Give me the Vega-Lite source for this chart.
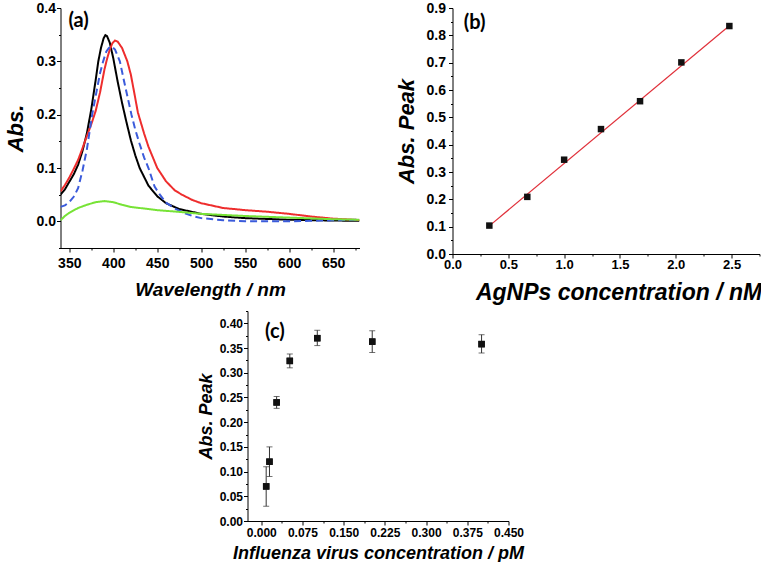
{
  "$schema": "https://vega.github.io/schema/vega-lite/v6.json",
  "background": "white",
  "padding": {"left": 3.5, "top": 1, "right": 0, "bottom": 0},
  "spacing": 1,
  "config": {
    "view": {"stroke": null},
    "font": "Liberation Sans",
    "axis": {
      "grid": false,
      "domainColor": "#000000",
      "tickColor": "#000000",
      "labelColor": "#000000",
      "titleColor": "#000000",
      "labelFont": "Liberation Sans",
      "titleFont": "Liberation Sans",
      "labelFontWeight": "bold",
      "titleFontWeight": "bold",
      "titleFontStyle": "italic",
      "labelFlush": false,
      "labelOverlap": false,
      "labelBound": false,
      "domainWidth": 1,
      "tickWidth": 1,
      "tickCount": 100
    }
  },
  "vconcat": [
    {
      "spacing": 35,
      "hconcat": [
        {
          "width": 299,
          "height": 240,
          "layer": [
            {
              "data": {"values": [
                {"wl": 340, "abs": 0.050, "s": "A"}, {"wl": 345, "abs": 0.060, "s": "A"}, {"wl": 350, "abs": 0.074, "s": "A"}, {"wl": 355, "abs": 0.088, "s": "A"}, {"wl": 360, "abs": 0.106, "s": "A"}, {"wl": 365, "abs": 0.132, "s": "A"}, {"wl": 370, "abs": 0.165, "s": "A"}, {"wl": 375, "abs": 0.210, "s": "A"}, {"wl": 380, "abs": 0.265, "s": "A"}, {"wl": 383, "abs": 0.300, "s": "A"}, {"wl": 386, "abs": 0.325, "s": "A"}, {"wl": 389, "abs": 0.343, "s": "A"}, {"wl": 391, "abs": 0.349, "s": "A"}, {"wl": 393, "abs": 0.347, "s": "A"}, {"wl": 396, "abs": 0.335, "s": "A"}, {"wl": 400, "abs": 0.306, "s": "A"}, {"wl": 405, "abs": 0.262, "s": "A"}, {"wl": 410, "abs": 0.222, "s": "A"}, {"wl": 415, "abs": 0.186, "s": "A"}, {"wl": 420, "abs": 0.152, "s": "A"}, {"wl": 425, "abs": 0.124, "s": "A"}, {"wl": 430, "abs": 0.100, "s": "A"}, {"wl": 440, "abs": 0.067, "s": "A"}, {"wl": 450, "abs": 0.047, "s": "A"}, {"wl": 460, "abs": 0.034, "s": "A"}, {"wl": 475, "abs": 0.023, "s": "A"}, {"wl": 500, "abs": 0.014, "s": "A"}, {"wl": 525, "abs": 0.009, "s": "A"}, {"wl": 550, "abs": 0.006, "s": "A"}, {"wl": 600, "abs": 0.003, "s": "A"}, {"wl": 650, "abs": 0.0015, "s": "A"}, {"wl": 680, "abs": 0.001, "s": "A"},
                {"wl": 340, "abs": 0.056, "s": "B"}, {"wl": 345, "abs": 0.068, "s": "B"}, {"wl": 350, "abs": 0.082, "s": "B"}, {"wl": 355, "abs": 0.098, "s": "B"}, {"wl": 360, "abs": 0.115, "s": "B"}, {"wl": 365, "abs": 0.137, "s": "B"}, {"wl": 370, "abs": 0.160, "s": "B"}, {"wl": 375, "abs": 0.182, "s": "B"}, {"wl": 380, "abs": 0.207, "s": "B"}, {"wl": 385, "abs": 0.242, "s": "B"}, {"wl": 390, "abs": 0.285, "s": "B"}, {"wl": 393, "abs": 0.305, "s": "B"}, {"wl": 396, "abs": 0.322, "s": "B"}, {"wl": 399, "abs": 0.334, "s": "B"}, {"wl": 402, "abs": 0.339, "s": "B"}, {"wl": 405, "abs": 0.337, "s": "B"}, {"wl": 410, "abs": 0.325, "s": "B"}, {"wl": 416, "abs": 0.300, "s": "B"}, {"wl": 420, "abs": 0.275, "s": "B"}, {"wl": 424, "abs": 0.240, "s": "B"}, {"wl": 428, "abs": 0.204, "s": "B"}, {"wl": 435, "abs": 0.165, "s": "B"}, {"wl": 440, "abs": 0.140, "s": "B"}, {"wl": 450, "abs": 0.100, "s": "B"}, {"wl": 460, "abs": 0.075, "s": "B"}, {"wl": 470, "abs": 0.058, "s": "B"}, {"wl": 478, "abs": 0.050, "s": "B"}, {"wl": 490, "abs": 0.040, "s": "B"}, {"wl": 500, "abs": 0.034, "s": "B"}, {"wl": 525, "abs": 0.025, "s": "B"}, {"wl": 550, "abs": 0.021, "s": "B"}, {"wl": 575, "abs": 0.018, "s": "B"}, {"wl": 600, "abs": 0.014, "s": "B"}, {"wl": 625, "abs": 0.009, "s": "B"}, {"wl": 650, "abs": 0.005, "s": "B"}, {"wl": 680, "abs": 0.0025, "s": "B"},
                {"wl": 340, "abs": 0.027, "s": "C"}, {"wl": 345, "abs": 0.030, "s": "C"}, {"wl": 350, "abs": 0.036, "s": "C"}, {"wl": 355, "abs": 0.046, "s": "C"}, {"wl": 360, "abs": 0.062, "s": "C"}, {"wl": 365, "abs": 0.095, "s": "C"}, {"wl": 370, "abs": 0.135, "s": "C"}, {"wl": 376, "abs": 0.200, "s": "C"}, {"wl": 380, "abs": 0.235, "s": "C"}, {"wl": 385, "abs": 0.278, "s": "C"}, {"wl": 388.5, "abs": 0.300, "s": "C"}, {"wl": 392, "abs": 0.318, "s": "C"}, {"wl": 395, "abs": 0.325, "s": "C"}, {"wl": 398, "abs": 0.328, "s": "C"}, {"wl": 402, "abs": 0.322, "s": "C"}, {"wl": 407.5, "abs": 0.300, "s": "C"}, {"wl": 412, "abs": 0.265, "s": "C"}, {"wl": 416, "abs": 0.235, "s": "C"}, {"wl": 420.7, "abs": 0.200, "s": "C"}, {"wl": 425, "abs": 0.172, "s": "C"}, {"wl": 430, "abs": 0.145, "s": "C"}, {"wl": 435, "abs": 0.120, "s": "C"}, {"wl": 440, "abs": 0.100, "s": "C"}, {"wl": 447, "abs": 0.065, "s": "C"}, {"wl": 453, "abs": 0.050, "s": "C"}, {"wl": 460, "abs": 0.035, "s": "C"}, {"wl": 470, "abs": 0.024, "s": "C"}, {"wl": 480, "abs": 0.016, "s": "C"}, {"wl": 490, "abs": 0.010, "s": "C"}, {"wl": 500, "abs": 0.006, "s": "C"}, {"wl": 525, "abs": 0.002, "s": "C"}, {"wl": 550, "abs": 0.000, "s": "C"}, {"wl": 600, "abs": 0.000, "s": "C"}, {"wl": 650, "abs": 0.002, "s": "C"}, {"wl": 680, "abs": 0.003, "s": "C"},
                {"wl": 340, "abs": 0.002, "s": "D"}, {"wl": 345, "abs": 0.010, "s": "D"}, {"wl": 350, "abs": 0.016, "s": "D"}, {"wl": 360, "abs": 0.025, "s": "D"}, {"wl": 370, "abs": 0.031, "s": "D"}, {"wl": 380, "abs": 0.036, "s": "D"}, {"wl": 390, "abs": 0.038, "s": "D"}, {"wl": 400, "abs": 0.036, "s": "D"}, {"wl": 410, "abs": 0.031, "s": "D"}, {"wl": 420, "abs": 0.027, "s": "D"}, {"wl": 450, "abs": 0.021, "s": "D"}, {"wl": 480, "abs": 0.017, "s": "D"}, {"wl": 500, "abs": 0.014, "s": "D"}, {"wl": 550, "abs": 0.010, "s": "D"}, {"wl": 600, "abs": 0.007, "s": "D"}, {"wl": 650, "abs": 0.004, "s": "D"}, {"wl": 680, "abs": 0.003, "s": "D"}
              ]},
              "mark": {"type": "line", "strokeWidth": 2, "clip": true},
              "encoding": {
                "x": {"field": "wl", "type": "quantitative",
                  "scale": {"domain": [340, 680], "nice": false, "zero": false},
                  "axis": {"title": "Wavelength / nm", "titleFontSize": 19, "titlePadding": 10, "labelFontSize": 14, "labelPadding": 4, "labelOverlap": false, "tickCount": 100,
                    "values": [350, 375, 400, 425, 450, 475, 500, 525, 550, 575, 600, 625, 650, 675],
                    "labelExpr": "datum.value % 50 === 0 ? datum.label : ''",
                    "tickSize": {"condition": {"test": "datum.value % 50 !== 0", "value": 2}, "value": 4}}},
                "y": {"field": "abs", "type": "quantitative",
                  "scale": {"domain": [-0.05, 0.4], "nice": false, "zero": false},
                  "axis": {"title": "Abs.", "titleFontSize": 22, "titlePadding": 9, "labelFontSize": 14, "labelPadding": 1, "format": ".1f", "labelOverlap": false, "tickCount": 100,
                    "values": [-0.05, 0, 0.05, 0.1, 0.15, 0.2, 0.25, 0.3, 0.35, 0.4],
                    "labelExpr": "round(datum.value*100) % 10 === 0 ? datum.label : ''",
                    "tickSize": {"condition": {"test": "round(datum.value*100) % 10 !== 0", "value": 2}, "value": 4}}},
                "color": {"field": "s", "type": "nominal", "legend": null,
                  "scale": {"domain": ["A", "B", "C", "D"], "range": ["#000000", "#ee2d2d", "#3b5bdb", "#77e336"]}},
                "strokeDash": {"field": "s", "type": "nominal", "legend": null,
                  "scale": {"domain": ["A", "B", "C", "D"], "range": [[1, 0], [1, 0], [7, 4], [1, 0]]}}
              }
            },
            {
              "data": {"values": [{"px": 349, "py": 0.364, "t": "(a)"}]},
              "mark": {"type": "text", "align": "left", "baseline": "alphabetic", "font": "Lato", "fontSize": 20, "fontWeight": "bold", "color": "#000000"},
              "encoding": {
                "x": {"field": "px", "type": "quantitative"},
                "y": {"field": "py", "type": "quantitative"},
                "text": {"field": "t"}
              }
            }
          ]
        },
        {
          "width": 307,
          "height": 246,
          "layer": [
            {
              "data": {"values": [{"c": 0.33, "p": 0.103}, {"c": 2.48, "p": 0.835}]},
              "mark": {"type": "line", "color": "#e0303a", "strokeWidth": 1.2},
              "encoding": {
                "x": {"field": "c", "type": "quantitative",
                  "scale": {"domain": [0, 2.75], "nice": false, "zero": false},
                  "axis": {"title": "AgNPs concentration / nM", "titleFontSize": 23, "titlePadding": 10, "titleX": 166, "labelFontSize": 13, "labelPadding": 0, "format": ".1f", "labelOverlap": false, "tickCount": 100,
                    "values": [0, 0.25, 0.5, 0.75, 1, 1.25, 1.5, 1.75, 2, 2.25, 2.5, 2.75],
                    "labelExpr": "round(datum.value*100) % 50 === 0 ? datum.label : ''",
                    "tickSize": {"condition": {"test": "round(datum.value*100) % 50 !== 0", "value": 2}, "value": 4}}},
                "y": {"field": "p", "type": "quantitative",
                  "scale": {"domain": [0, 0.9], "nice": false, "zero": false},
                  "axis": {"title": "Abs. Peak", "titleFontSize": 22, "titlePadding": 8, "labelFontSize": 14, "labelPadding": 3, "format": ".1f", "labelOverlap": false, "tickCount": 100,
                    "values": [0, 0.05, 0.1, 0.15, 0.2, 0.25, 0.3, 0.35, 0.4, 0.45, 0.5, 0.55, 0.6, 0.65, 0.7, 0.75, 0.8, 0.85, 0.9],
                    "labelExpr": "round(datum.value*100) % 10 === 0 ? datum.label : ''",
                    "tickSize": {"condition": {"test": "round(datum.value*100) % 10 !== 0", "value": 2}, "value": 4}}}
              }
            },
            {
              "data": {"values": [
                {"c": 0.33, "p": 0.104}, {"c": 0.67, "p": 0.209}, {"c": 1.0, "p": 0.345}, {"c": 1.33, "p": 0.457},
                {"c": 1.68, "p": 0.559}, {"c": 2.05, "p": 0.701}, {"c": 2.48, "p": 0.834}
              ]},
              "mark": {"type": "point", "shape": "square", "filled": true, "size": 42, "color": "#111111", "opacity": 1},
              "encoding": {
                "x": {"field": "c", "type": "quantitative"},
                "y": {"field": "p", "type": "quantitative"}
              }
            },
            {
              "data": {"values": [{"px": 0.1, "py": 0.825, "t": "(b)"}]},
              "mark": {"type": "text", "align": "left", "baseline": "alphabetic", "font": "Lato", "fontSize": 20, "fontWeight": "bold", "color": "#000000"},
              "encoding": {
                "x": {"field": "px", "type": "quantitative"},
                "y": {"field": "py", "type": "quantitative"},
                "text": {"field": "t"}
              }
            }
          ]
        }
      ]
    },
    {
      "spacing": 10,
      "hconcat": [
        {
          "width": 126,
          "height": 210,
          "data": {"values": [{"s": 1}]},
          "mark": {"type": "point", "opacity": 0},
          "encoding": {}
        },
        {
          "width": 261,
          "height": 210,
          "data": {"values": [
            {"v": 0.009, "m": 0.070, "lo": 0.030, "hi": 0.110},
            {"v": 0.015, "m": 0.120, "lo": 0.090, "hi": 0.150},
            {"v": 0.028, "m": 0.240, "lo": 0.228, "hi": 0.252},
            {"v": 0.052, "m": 0.324, "lo": 0.310, "hi": 0.338},
            {"v": 0.102, "m": 0.370, "lo": 0.355, "hi": 0.386},
            {"v": 0.202, "m": 0.363, "lo": 0.341, "hi": 0.385},
            {"v": 0.401, "m": 0.358, "lo": 0.340, "hi": 0.377}
          ]},
          "layer": [
            {
              "mark": {"type": "point", "shape": "square", "filled": true, "size": 42, "color": "#111111", "opacity": 1},
              "encoding": {
                "x": {"field": "v", "type": "quantitative",
                  "scale": {"domain": [-0.025, 0.45], "nice": false, "zero": false},
                  "axis": {"title": "Influenza virus concentration / pM", "titleFontSize": 18, "titlePadding": 6, "labelFontSize": 12, "labelPadding": 2, "format": ".3f", "labelOverlap": false, "tickCount": 100,
                    "values": [0, 0.0375, 0.075, 0.1125, 0.15, 0.1875, 0.225, 0.2625, 0.3, 0.3375, 0.375, 0.4125, 0.45],
                    "labelExpr": "round(datum.value*10000) % 750 === 0 ? datum.label : ''",
                    "tickSize": {"condition": {"test": "round(datum.value*10000) % 750 !== 0", "value": 2}, "value": 4}}},
                "y": {"field": "m", "type": "quantitative",
                  "scale": {"domain": [0, 0.425], "nice": false, "zero": false},
                  "axis": {"title": "Abs. Peak", "titleFontSize": 18, "titlePadding": 4, "labelFontSize": 12, "labelPadding": 1, "format": ".2f", "labelOverlap": false, "tickCount": 100,
                    "values": [0, 0.025, 0.05, 0.075, 0.1, 0.125, 0.15, 0.175, 0.2, 0.225, 0.25, 0.275, 0.3, 0.325, 0.35, 0.375, 0.4, 0.425],
                    "labelExpr": "round(datum.value*1000) % 50 === 0 ? datum.label : ''",
                    "tickSize": {"condition": {"test": "round(datum.value*1000) % 50 !== 0", "value": 2}, "value": 4}}}
              }
            },
            {
              "mark": {"type": "errorbar", "ticks": {"size": 6, "color": "#333333"}, "rule": {"color": "#333333", "strokeWidth": 1}},
              "encoding": {
                "x": {"field": "v", "type": "quantitative", "axis": {"title": "Influenza virus concentration / pM"}},
                "y": {"field": "lo", "type": "quantitative", "axis": {"title": "Abs. Peak"}},
                "y2": {"field": "hi"}
              }
            },
            {
              "mark": {"type": "point", "shape": "square", "filled": true, "size": 42, "color": "#111111", "opacity": 1},
              "encoding": {
                "x": {"field": "v", "type": "quantitative"},
                "y": {"field": "m", "type": "quantitative"}
              }
            },
            {
              "data": {"values": [{"px": 0.007, "py": 0.37, "t": "(c)"}]},
              "mark": {"type": "text", "align": "left", "baseline": "alphabetic", "font": "Lato", "fontSize": 20, "fontWeight": "bold", "color": "#000000"},
              "encoding": {
                "x": {"field": "px", "type": "quantitative"},
                "y": {"field": "py", "type": "quantitative"},
                "text": {"field": "t"}
              }
            }
          ]
        }
      ]
    }
  ]
}
